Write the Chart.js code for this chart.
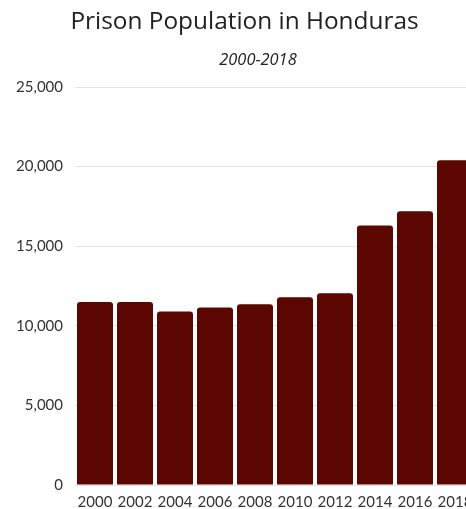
<!DOCTYPE html>
<html>
<head>
<meta charset="utf-8">
<script src="https://cdn.jsdelivr.net/npm/chart.js@4"></script>
<style>
  html, body { margin: 0; padding: 0; background: #fff; overflow: hidden; }
  #wrap { position: relative; width: 490px; height: 509px; }
  #titulo {
    position: absolute; left: 0; width: 489px; top: 3px;
    text-align: center; font: 24.4px "Open Sans", sans-serif; color: #222;
  }
  #subtitulo {
    position: absolute; left: 158px; width: 200px; top: 47px;
    text-align: center; font: italic 16.4px "Open Sans", sans-serif; color: #222;
  }
</style>
</head>
<body>
<div id="wrap">
  <div id="titulo">Prison Population in Honduras</div>
  <div id="subtitulo">2000-2018</div>
  <canvas id="presos" width="490" height="509"></canvas>
</div>
<script>
const anos = ["2000", "2002", "2004", "2006", "2008", "2010", "2012", "2014", "2016", "2018"];
const populacao = [11500, 11500, 10900, 11150, 11350, 11800, 12050, 16300, 17200, 20400];
const ticks_y = [0, 5000, 10000, 15000, 20000, 25000];

const presos = document.getElementById("presos");

new Chart(presos, {
  type: "bar",
  data: {
    labels: anos,
    datasets: [
      {
        label: "Prison population",
        data: populacao,
        backgroundColor: "#5c0600",
        borderRadius: 3,
        borderSkipped: "bottom",
        barPercentage: 0.9,
        categoryPercentage: 1,
      },
    ],
  },
  options: {
    responsive: false,
    animation: false,
    layout: {
      padding: { top: 87, right: 15, bottom: 0, left: 0 },
    },
    scales: {
      x: {
        grid: { display: false, drawTicks: false },
        border: { display: false },
        ticks: {
          color: "#333",
          font: { family: "Lato", size: 15 },
          padding: 8,
          maxRotation: 0,
          autoSkip: false,
        },
        afterFit: (s) => { s.height = 24; },
      },
      y: {
        min: 0,
        max: 25000,
        afterBuildTicks: (s) => { s.ticks = ticks_y.map((v) => ({ value: v })); },
        afterFit: (s) => { s.width = 75; },
        border: { display: false },
        grid: { color: "#e3e3e3", drawTicks: false },
        ticks: {
          color: "#333",
          padding: 12,
          font: { family: "Lato", size: 15 },
          callback: (v) => v.toLocaleString("en-US"),
        },
      },
    },
    plugins: {
      legend: { display: false },
      tooltip: { enabled: false },
    },
  },
});
</script>
</body>
</html>
